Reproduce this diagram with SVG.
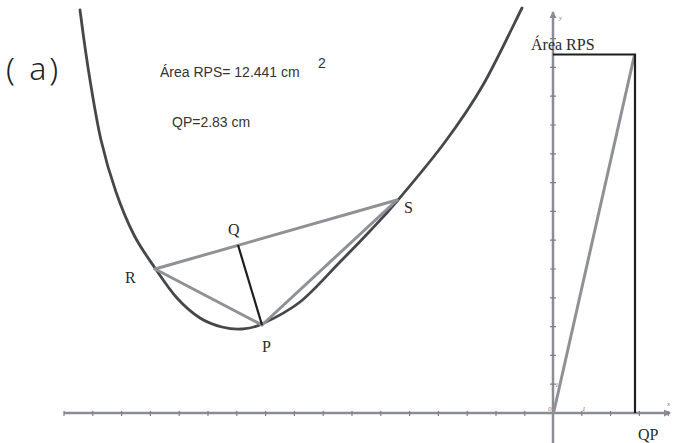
<svg xmlns="http://www.w3.org/2000/svg" width="674" height="443" viewBox="0 0 674 443">
<style>
.ax{stroke:#8a8d94;stroke-width:2.5;fill:none}
.tk{stroke:#7d8088;stroke-width:1.2}
.tri{stroke:#8f9196;stroke-width:3;fill:none;stroke-linecap:round}
.blk{stroke:#1e1e1e;stroke-width:2.2;fill:none}
.curve{stroke:#45474c;stroke-width:2.8;fill:none;stroke-linecap:round;stroke-linejoin:round}
.lbl{font-family:"Liberation Serif",serif;font-size:16px;fill:#2a2a2a}
.sans{font-family:"Liberation Sans",Arial,sans-serif;fill:#333;font-size:14px}
.tiny{font-family:"Liberation Serif",serif;font-size:7px;fill:#777;font-style:italic}
</style>
<defs>
<marker id="arr" markerWidth="8" markerHeight="8" refX="6" refY="4" orient="auto" markerUnits="userSpaceOnUse">
<path d="M0,0.5 L7,4 L0,7.5 Z" fill="#8a8d94"/>
</marker>
</defs>
<rect width="674" height="443" fill="#fff"/>
<g id="axes">
<line class="ax" x1="64" y1="413" x2="670" y2="413" marker-end="url(#arr)"/>
<line class="ax" x1="553" y1="443" x2="553" y2="12" marker-end="url(#arr)"/>
<g class="tk">
<path d="M64,411V416M92.8,411V416M121.6,411V416M150.4,411V416M179.2,411V416M208,411V416M236.8,411V416M265.6,411V416M294.4,411V416M323.2,411V416M352,411V416M380.8,411V416M409.6,411V416M438.4,411V416M467.2,411V416M496,411V416M524.8,411V416M581.8,411V416M610.6,411V416M639.4,411V416M668.2,411V416"/>
<path d="M550,384.2H556M550,355.4H556M550,326.6H556M550,297.8H556M550,269H556M550,240.2H556M550,211.4H556M550,182.6H556M550,153.8H556M550,125H556M550,96.2H556M550,67.4H556M550,38.6H556"/>
</g>
<text class="tiny" x="559" y="20">y</text>
<text class="tiny" x="667" y="406">x</text>
<text class="tiny" x="555" y="387">1</text>
<text class="tiny" x="582" y="411">1</text>
<text class="tiny" x="548" y="411">0</text>
</g>
<g id="curve">
<path class="curve" d="M80,10 C81.7,23.3 86.5,58.7 90,80 C93.5,101.3 96.7,121.3 101,140 C105.3,158.7 110.5,176.2 116,192 C121.5,207.8 127.5,222.3 134,235 C140.5,247.7 147.8,257.5 155,268 C162.2,278.5 169.5,289.7 177,298 C184.5,306.3 192.5,313.2 200,318 C207.5,322.8 215,325.2 222,327 C229,328.8 235.3,329.5 242,329 C248.7,328.5 252.3,328.5 262,324 C271.7,319.5 287,312.3 300,302 C313,291.7 328.3,273.8 340,262 C351.7,250.2 360.3,241.3 370,231 C379.7,220.7 385.5,214.8 398,200 C410.5,185.2 430.8,161.2 445,142 C459.2,122.8 470.2,107.3 483,85 C495.8,62.7 515.5,20.8 522,8"/>
</g>
<g id="connectors">
<line class="tri" x1="155" y1="269" x2="397" y2="200"/>
<line class="tri" x1="155" y1="269" x2="262" y2="325"/>
<line class="tri" x1="262" y1="325" x2="397" y2="200"/>
<line class="blk" x1="238" y1="245" x2="262" y2="325"/>
<line class="tri" x1="554" y1="411" x2="634" y2="57"/>
<polyline class="blk" points="553,54.5 635,54.5 635,413"/>
</g>
<g id="node-R"><text class="lbl" x="125" y="283">R</text></g>
<g id="node-Q"><text class="lbl" x="228" y="235">Q</text></g>
<g id="node-S"><text class="lbl" x="404" y="213">S</text></g>
<g id="node-P"><text class="lbl" x="262" y="352">P</text></g>
<g id="label-area"><text class="lbl" x="531" y="50">Área RPS</text></g>
<g id="label-qp"><text class="lbl" x="638" y="440">QP</text></g>
<g id="caption">
<text x="6" y="80" font-family="'Noto Sans',sans-serif" font-size="32" fill="#222" font-weight="300" letter-spacing="3">( a)</text>
</g>
<g id="values">
<text class="sans" x="160" y="77">Área RPS= 12.441 cm</text>
<text class="sans" x="318" y="68">2</text>
<text class="sans" x="172" y="127">QP=2.83 cm</text>
</g>
</svg>
